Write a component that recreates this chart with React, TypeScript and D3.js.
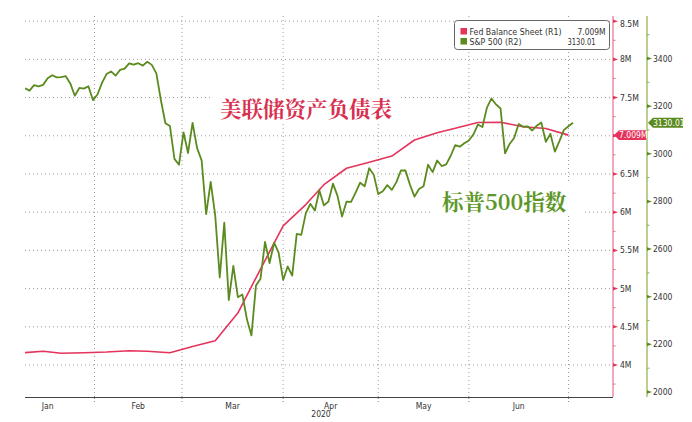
import React from 'react';
import * as d3 from 'd3';

// ---------- data ----------
const preDays = ["2020-01-02", "2020-01-03", "2020-01-06", "2020-01-07", "2020-01-08"];

const spDates = [
  "2020-01-09","2020-01-10","2020-01-13","2020-01-14","2020-01-15","2020-01-16","2020-01-17","2020-01-21","2020-01-22","2020-01-23","2020-01-24","2020-01-27","2020-01-28","2020-01-29","2020-01-30","2020-01-31",
  "2020-02-03","2020-02-04","2020-02-05","2020-02-06","2020-02-07","2020-02-10","2020-02-11","2020-02-12","2020-02-13","2020-02-14","2020-02-18","2020-02-19","2020-02-20","2020-02-21","2020-02-24","2020-02-25","2020-02-26","2020-02-27","2020-02-28",
  "2020-03-02","2020-03-03","2020-03-04","2020-03-05","2020-03-06","2020-03-09","2020-03-10","2020-03-11","2020-03-12","2020-03-13","2020-03-16","2020-03-17","2020-03-18","2020-03-19","2020-03-20","2020-03-23","2020-03-24","2020-03-25","2020-03-26","2020-03-27","2020-03-30","2020-03-31",
  "2020-04-01","2020-04-02","2020-04-03","2020-04-06","2020-04-07","2020-04-08","2020-04-09","2020-04-13","2020-04-14","2020-04-15","2020-04-16","2020-04-17","2020-04-20","2020-04-21","2020-04-22","2020-04-23","2020-04-24","2020-04-27","2020-04-28","2020-04-29","2020-04-30",
  "2020-05-01","2020-05-04","2020-05-05","2020-05-06","2020-05-07","2020-05-08","2020-05-11","2020-05-12","2020-05-13","2020-05-14","2020-05-15","2020-05-18","2020-05-19","2020-05-20","2020-05-21","2020-05-22","2020-05-26","2020-05-27","2020-05-28","2020-05-29",
  "2020-06-01","2020-06-02","2020-06-03","2020-06-04","2020-06-05","2020-06-08","2020-06-09","2020-06-10","2020-06-11","2020-06-12","2020-06-15","2020-06-16","2020-06-17","2020-06-18","2020-06-19","2020-06-22","2020-06-23","2020-06-24","2020-06-25","2020-06-26","2020-06-29","2020-06-30",
  "2020-07-01","2020-07-02"
];

const spValues = [
  3274.70, 3265.35, 3288.13, 3283.15, 3289.29, 3316.81, 3329.62, 3320.79, 3321.75, 3325.54, 3295.47, 3243.63, 3276.24, 3273.40, 3283.66, 3225.52,
  3248.92, 3297.59, 3334.69, 3345.78, 3327.71, 3352.09, 3357.75, 3379.45, 3373.94, 3380.16, 3370.29, 3386.15, 3373.23, 3337.75, 3225.89, 3128.21, 3116.39, 2978.76, 2954.22,
  3090.23, 3003.37, 3130.12, 3023.94, 2972.37, 2746.56, 2882.23, 2741.38, 2480.64, 2711.02, 2386.13, 2529.19, 2398.10, 2409.39, 2304.92, 2237.40, 2447.33, 2475.56, 2630.07, 2541.47, 2626.65, 2584.59,
  2470.50, 2526.90, 2488.65, 2663.68, 2659.41, 2749.98, 2789.82, 2761.63, 2846.06, 2783.36, 2799.55, 2874.56, 2823.16, 2736.56, 2799.31, 2797.80, 2836.74, 2878.48, 2863.39, 2939.51, 2912.43,
  2830.71, 2842.74, 2868.44, 2848.42, 2881.19, 2929.80, 2930.32, 2870.12, 2820.00, 2852.50, 2863.70, 2953.91, 2922.94, 2971.61, 2948.51, 2955.45, 2991.77, 3036.13, 3029.73, 3044.31,
  3055.73, 3080.82, 3122.87, 3112.35, 3193.93, 3232.39, 3207.18, 3190.14, 3002.10, 3041.31, 3066.59, 3124.74, 3113.49, 3115.34, 3097.74, 3117.86, 3131.29, 3050.33, 3083.76, 3009.05, 3053.24, 3100.29,
  3115.86, 3130.01
];

const fedDates = [
  "2020-01-08","2020-01-15","2020-01-22","2020-01-29","2020-02-05","2020-02-12","2020-02-19","2020-02-26",
  "2020-03-04","2020-03-11","2020-03-18","2020-03-25","2020-04-01","2020-04-08","2020-04-15","2020-04-22","2020-04-29",
  "2020-05-06","2020-05-13","2020-05-20","2020-05-27","2020-06-03","2020-06-10","2020-06-17","2020-06-24","2020-07-01"
];
const fedValues = [
  4.157, 4.179, 4.153, 4.161, 4.170, 4.187, 4.180, 4.161,
  4.241, 4.318, 4.680, 5.255, 5.820, 6.100, 6.360, 6.575, 6.655,
  6.735, 6.945, 7.040, 7.100, 7.175, 7.178, 7.118, 7.095, 7.009
];

const fedTicks = [4, 4.5, 5, 5.5, 6, 6.5, 7.5, 8, 8.5];
const fedGrid = [4, 4.5, 5, 5.5, 6, 6.5, 7, 7.5, 8, 8.5];
const fedMinor = [3.75, 4.25, 4.75, 5.25, 5.75, 6.25, 6.75, 7.25, 7.75, 8.25];
const spTicks = [2000, 2200, 2400, 2600, 2800, 3000, 3200, 3400];
const spMinor = [2100, 2300, 2500, 2700, 2900, 3100, 3300, 3500];

const monthLabels = ["Jan", "Feb", "Mar", "Apr", "May", "Jun"];
const monthStarts = ["2020-01-01", "2020-02-01", "2020-03-01", "2020-04-01", "2020-05-01", "2020-06-01", "2020-07-01"];
const yearLabel = "2020";

const legendFed = "Fed Balance Sheet (R1)";
const legendSp = "S&P 500 (R2)";
const lastFedLabel = "7.009M";
const lastSpLabel = "3130.01";
const annFed = "美联储资产负债表";
const annSp = "标普500指数";

// ---------- layout ----------
const W = 692, H = 422;
const plotL = 25, plotR = 613, plotT = 16, plotB = 397;
const greenAxisX = 647;

const RED = "#e5335b";
const RED_AXIS = "#e9708a";
const GREEN = "#5b8b1e";
const GREEN_AXIS = "#8fae4a";
const GRID = "#9c9c9c";
const TXT = "#333";
const tickFont = "'DejaVu Sans Condensed', 'DejaVu Sans', sans-serif";
const cjkFont = "'Noto Serif CJK SC', 'Noto Sans CJK SC', 'Noto Sans CJK JP', sans-serif";

const allDays = preDays.concat(spDates);
const dayNum = (s: string) => Date.parse(s + "T00:00:00Z") / 86400000;

function dayPos(s: string): number {
  const t = dayNum(s);
  const i = allDays.findIndex((d) => dayNum(d) >= t);
  if (i < 0) return allDays.length - 1;
  if (i === 0) return -0.3;
  const a = dayNum(allDays[i - 1]), b = dayNum(allDays[i]);
  return i - 1 + (t - a) / (b - a);
}

export default function App() {
  const x = d3.scaleLinear().domain([allDays.indexOf(spDates[0]), allDays.length - 1]).range([plotL, 573]);
  const yFed = d3.scaleLinear().domain([4, 8]).range([365, 59.4]);
  const ySp = d3.scaleLinear().domain([2000, 3400]).range([392, 58.5]);

  const spPts: [number, number][] = spDates.map((d, i) => [x(allDays.indexOf(d)), ySp(spValues[i])]);
  const fedPts: [number, number][] = fedDates.map((d, i) => [x(dayPos(d)), yFed(fedValues[i])]);
  const line = d3.line();

  const monthX = monthStarts.map((m) => x(dayPos(m)));
  const lastFed = fedValues[fedValues.length - 1];
  const lastSp = spValues[spValues.length - 1];
  const fy = yFed(lastFed);
  const sy = ySp(lastSp);

  return (
    <svg width={W} height={H} style={{ position: 'absolute', left: 0, top: 0, background: '#fff' }}
      fontFamily={tickFont} fontStretch="condensed">
      <defs>
        <clipPath id="plotclip">
          <rect x={plotL} y={0} width={plotR - plotL} height={plotB} />
        </clipPath>
      </defs>
      <rect x={0} y={0} width={W} height={H} fill="#fff" />

      {/* grid */}
      {fedGrid.map((v) => (
        <line key={'h' + v} x1={plotL} x2={plotR - 2} y1={yFed(v)} y2={yFed(v)}
          stroke={GRID} strokeWidth={1} strokeDasharray="1 3" />
      ))}
      {monthX.slice(1).map((mx, i) => (
        <line key={'v' + i} x1={mx} x2={mx} y1={plotT} y2={plotB}
          stroke={GRID} strokeWidth={1} strokeDasharray="1 3" />
      ))}

      {/* annotation boxes */}
      <rect x={211} y={90} width={190} height={32} fill="#fff" />
      <rect x={432} y={182} width={153} height={33} fill="#fff" />
      <text x={220} y={107.5} dominantBaseline="central" fontFamily={cjkFont} fontWeight={700}
        fontSize={21.5} fill="#d8304f" fontStretch="normal">{annFed}</text>
      <text x={442} y={200} dominantBaseline="central" fontFamily={cjkFont} fontWeight={700}
        fontSize={21.5} fill="#5c9728" fontStretch="normal">{annSp}</text>

      {/* lines */}
      <g clipPath="url(#plotclip)">
        <path d={line(fedPts) || ''} fill="none" stroke={RED} strokeWidth={1.6} strokeLinejoin="round" />
        <path d={line(spPts) || ''} fill="none" stroke={GREEN} strokeWidth={1.8} strokeLinejoin="round" />
      </g>

      {/* x axis */}
      <line x1={plotL} x2={plotR} y1={plotB + 0.5} y2={plotB + 0.5} stroke="#444" strokeWidth={1} />
      {monthX.slice(1).map((mx, i) => (
        <line key={'xt' + i} x1={mx} x2={mx} y1={plotB + 1} y2={plotB + 6} stroke="#888" strokeWidth={1} strokeDasharray="1 2" />
      ))}
      {monthLabels.map((m, i) => (
        <text key={m} x={(Math.max(monthX[i], plotL - 25) + monthX[i + 1]) / 2} y={409} textAnchor="middle"
          fontSize={8.5} fill={TXT}>{m}</text>
      ))}
      <text x={(plotL + plotR) / 2 + 2} y={417} textAnchor="middle" fontSize={8.5} fill={TXT}>{yearLabel}</text>

      {/* red (R1) axis */}
      <line x1={plotR} x2={plotR} y1={plotT} y2={plotB} stroke={RED_AXIS} strokeWidth={1.2} />
      {fedMinor.map((v) => (
        <line key={'fm' + v} x1={plotR} x2={plotR + 2.5} y1={yFed(v)} y2={yFed(v)} stroke={RED_AXIS} strokeWidth={1} />
      ))}
      {fedGrid.map((v) => (
        <path key={'ft' + v} d={`M${plotR},${yFed(v) - 1.8}L${plotR + 5},${yFed(v)}L${plotR},${yFed(v) + 1.8}Z`} fill={RED} />
      ))}
      {fedTicks.map((v) => (
        <text key={'fl' + v} x={plotR + 7} y={v === 8.5 ? yFed(v) + 6 : yFed(v) + 3} fontSize={8.5} fill={TXT}>{`${v}M`}</text>
      ))}

      {/* green (R2) axis */}
      <line x1={greenAxisX} x2={greenAxisX} y1={plotT} y2={plotB} stroke={GREEN_AXIS} strokeWidth={1.2} />
      {spMinor.map((v) => (
        <line key={'sm' + v} x1={greenAxisX} x2={greenAxisX + 2.5} y1={ySp(v)} y2={ySp(v)} stroke={GREEN_AXIS} strokeWidth={1} />
      ))}
      {spTicks.map((v) => (
        <g key={'st' + v}>
          <path d={`M${greenAxisX},${ySp(v) - 1.8}L${greenAxisX + 5},${ySp(v)}L${greenAxisX},${ySp(v) + 1.8}Z`} fill={GREEN} />
          <text x={greenAxisX + 6} y={ySp(v) + 3} fontSize={8.5} fill={TXT}>{v}</text>
        </g>
      ))}

      {/* last value flags */}
      <path d={`M${plotR + 1},${fy}L${plotR + 6},${fy - 4.8}L${plotR + 33},${fy - 4.8}L${plotR + 33},${fy + 4.8}L${plotR + 6},${fy + 4.8}Z`} fill={RED} />
      <text x={plotR + 6} y={fy + 3.2} fontSize={8.5} fill="#fff">{lastFedLabel}</text>
      <path d={`M${greenAxisX + 1},${sy}L${greenAxisX + 6},${sy - 5}L${greenAxisX + 36},${sy - 5}L${greenAxisX + 36},${sy + 5}L${greenAxisX + 6},${sy + 5}Z`} fill={GREEN} />
      <text x={greenAxisX + 6} y={sy + 3.2} fontSize={8.5} fill="#fff">{d3.format('.2f')(lastSp)}</text>

      {/* legend */}
      <rect x={454.5} y={20.5} width={155} height={29} rx={3} fill="#fff" stroke="#666" strokeWidth={1} />
      <rect x={460.5} y={28} width={6.5} height={6.5} fill={RED} />
      <rect x={460.5} y={38} width={6.5} height={6.5} fill={GREEN} />
      <text x={469.5} y={34.8} fontSize={9.5} fill={TXT} textLength={92} lengthAdjust="spacingAndGlyphs">{legendFed}</text>
      <text x={469.5} y={44.8} fontSize={9.5} fill={TXT} textLength={52} lengthAdjust="spacingAndGlyphs">{legendSp}</text>
      <text x={577.5} y={34.8} fontSize={9.5} fill={TXT} textLength={28} lengthAdjust="spacingAndGlyphs">{lastFedLabel}</text>
      <text x={567.5} y={44.8} fontSize={9.5} fill={TXT} textLength={28} lengthAdjust="spacingAndGlyphs">{lastSpLabel}</text>
    </svg>
  );
}
